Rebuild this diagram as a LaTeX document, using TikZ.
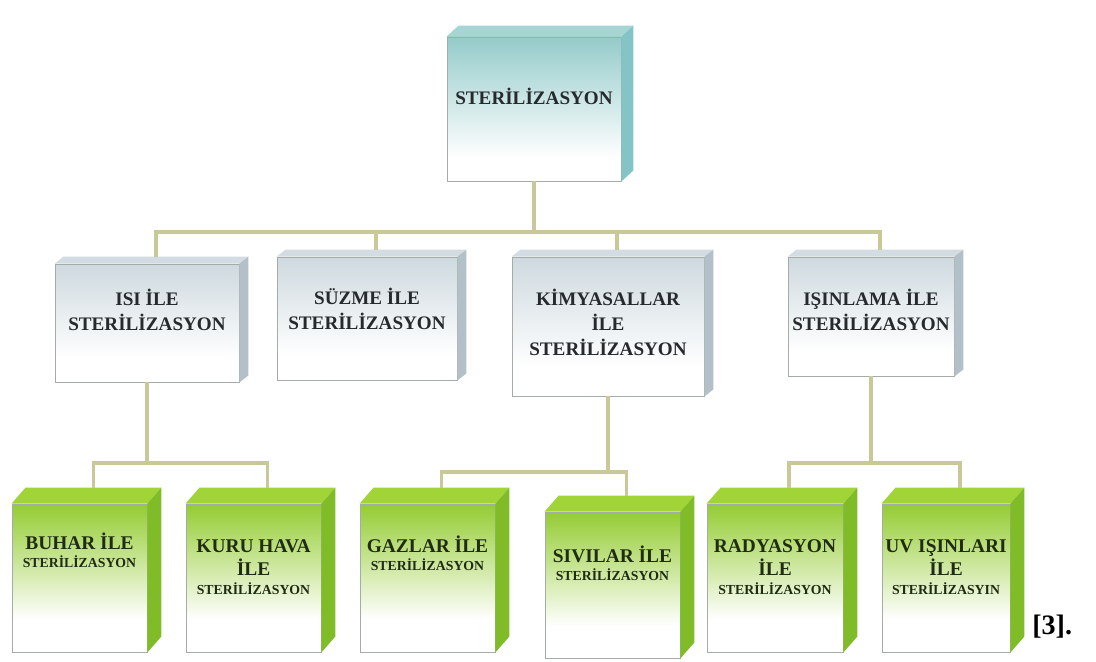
\documentclass[tikz,border=0pt]{standalone}
\usepackage{fontspec}
\setmainfont{Liberation Serif}
\usetikzlibrary{fit}
\definecolor{tealF}{RGB}{148,203,202}
\definecolor{tealT}{RGB}{166,213,211}
\definecolor{tealS}{RGB}{132,196,199}
\definecolor{grayF}{RGB}{206,217,223}
\definecolor{grayT}{RGB}{210,220,226}
\definecolor{grayS}{RGB}{180,192,200}
\definecolor{greenF}{RGB}{148,204,50}
\definecolor{greenT}{RGB}{160,212,55}
\definecolor{greenS}{RGB}{128,188,40}
\definecolor{connc}{RGB}{200,200,152}
\definecolor{edgec}{RGB}{165,172,168}
\definecolor{txtc}{RGB}{38,42,45}
\definecolor{gtxtc}{RGB}{32,44,18}
\pgfdeclareverticalshading{tealfade}{100bp}{color(0bp)=(white); color(33bp)=(white); color(75bp)=(tealF); color(100bp)=(tealF)}
\pgfdeclareverticalshading{grayfade}{100bp}{color(0bp)=(white); color(35bp)=(white); color(75bp)=(grayF); color(100bp)=(grayF)}
\pgfdeclareverticalshading{greenfade}{100bp}{color(0bp)=(white); color(36bp)=(white); color(75bp)=(greenF); color(100bp)=(greenF)}
\newcommand\boxfaces[5]{%
  \fill[#4] (#1.north west) -- ++(#2,-#3) -- ([shift={(#2,-#3)}]#1.north east) -- (#1.north east) -- cycle;
  \fill[#5] (#1.north east) -- ([shift={(#2,-#3)}]#1.north east) -- ([shift={(#2,-#3)}]#1.south east) -- (#1.south east) -- cycle;
  \coordinate (#1-top) at ([shift={(#2,-#3)}]#1.north);
}
\begin{document}
\begin{tikzpicture}[x=0.025cm,y=-0.025cm,
  front/.style={inner sep=0pt, draw=edgec, line width=0.6pt, shade},
  tealfront/.style={front, shading=tealfade},
  grayfront/.style={front, shading=grayfade},
  greenfront/.style={front, shading=greenfade},
  conn/.style={draw=connc, line width=2.6pt},
  lbl/.style={align=center, text=txtc, font=\bfseries\fontsize{13.6}{17.8}\selectfont, inner sep=0pt},
  glbl/.style={align=center, text=gtxtc, font=\bfseries\fontsize{13.8}{16.4}\selectfont, inner sep=0pt}
]
\useasboundingbox (0,0) rectangle (1096,662);
\newcommand\sml[1]{{\fontsize{9.8}{12}\selectfont #1}}

% root
\node[tealfront, fit={(447,37) (621,181)}] (root) {};
\boxfaces{root}{12}{11}{tealT}{tealS}
\node[lbl] (root-t) at (root.center |- 0,96) {STERİLİZASYON};

% level 2
\node[grayfront, fit={(55,264) (239,382)}] (isi) {};
\boxfaces{isi}{9}{7}{grayT}{grayS}
\node[lbl] (isi-t) at (isi.center |- 0,310) {ISI İLE\\STERİLİZASYON};

\node[grayfront, fit={(277,257) (457,380)}] (suz) {};
\boxfaces{suz}{9}{7}{grayT}{grayS}
\node[lbl] (suz-t) at (suz.center |- 0,309) {SÜZME İLE\\STERİLİZASYON};

\node[grayfront, fit={(512,257) (704,396)}] (kim) {};
\boxfaces{kim}{9}{7}{grayT}{grayS}
\node[lbl] (kim-t) at (kim.center |- 0,322) {KİMYASALLAR\\İLE\\STERİLİZASYON};

\node[grayfront, fit={(788,257) (954,376)}] (isin) {};
\boxfaces{isin}{9}{7}{grayT}{grayS}
\node[lbl] (isin-t) at (isin.center |- 0,310) {IŞINLAMA İLE\\STERİLİZASYON};

% level 3
\node[greenfront, fit={(12,504) (147,652)}] (buhar) {};
\boxfaces{buhar}{14}{16}{greenT}{greenS}
\node[glbl] (buhar-t) at (buhar.center |- 0,550) {BUHAR İLE\\[-3.5pt]\sml{STERİLİZASYON}};

\node[greenfront, fit={(186,504) (321,652)}] (kuru) {};
\boxfaces{kuru}{14}{16}{greenT}{greenS}
\node[glbl] (kuru-t) at (kuru.center |- 0,567) {KURU HAVA\\İLE\\[-2.7pt]\sml{STERİLİZASYON}};

\node[greenfront, fit={(360,504) (495,652)}] (gaz) {};
\boxfaces{gaz}{14}{16}{greenT}{greenS}
\node[glbl] (gaz-t) at (gaz.center |- 0,553) {GAZLAR İLE\\[-3.5pt]\sml{STERİLİZASYON}};

\node[greenfront, fit={(545,512) (680,658)}] (siv) {};
\boxfaces{siv}{14}{16}{greenT}{greenS}
\node[glbl] (siv-t) at (siv.center |- 0,563) {SIVILAR İLE\\[-3.5pt]\sml{STERİLİZASYON}};

\node[greenfront, fit={(707,504) (843,652)}] (rad) {};
\boxfaces{rad}{14}{16}{greenT}{greenS}
\node[glbl] (rad-t) at (rad.center |- 0,567) {RADYASYON\\İLE\\[-2.7pt]\sml{STERİLİZASYON}};

\node[greenfront, fit={(882,504) (1010,652)}] (uv) {};
\boxfaces{uv}{14}{16}{greenT}{greenS}
\node[glbl] (uv-t) at (uv.center |- 0,567) {UV IŞINLARI\\İLE\\[-2.7pt]\sml{STERİLİZASYIN}};

% connectors
\coordinate (bus0) at (0,232);
\coordinate (bus1) at (0,463);
\coordinate (bus2) at (0,472);
\coordinate (bus3) at (0,463);
\draw[conn] (root.south) -- (root.south |- bus0);
\draw[conn] (isi-top) -- (isi-top |- bus0) -- (isin-top |- bus0) -- (isin-top);
\draw[conn] (suz-top) -- (suz-top |- bus0);
\draw[conn] (kim-top) -- (kim-top |- bus0);

\draw[conn] (isi.south) -- (isi.south |- bus1);
\draw[conn] (buhar-top) -- (buhar-top |- bus1) -- (kuru-top |- bus1) -- (kuru-top);

\draw[conn] (kim.south) -- (kim.south |- bus2);
\draw[conn] (gaz-top) -- (gaz-top |- bus2) -- (siv-top |- bus2) -- (siv-top);

\draw[conn] (isin.south) -- (isin.south |- bus3);
\draw[conn] (rad-top) -- (rad-top |- bus3) -- (uv-top |- bus3) -- (uv-top);

\node[font=\bfseries\fontsize{20}{24}\selectfont, anchor=base west, inner sep=0pt] (ref) at (1032,634) {[3].};
\end{tikzpicture}
\end{document}
